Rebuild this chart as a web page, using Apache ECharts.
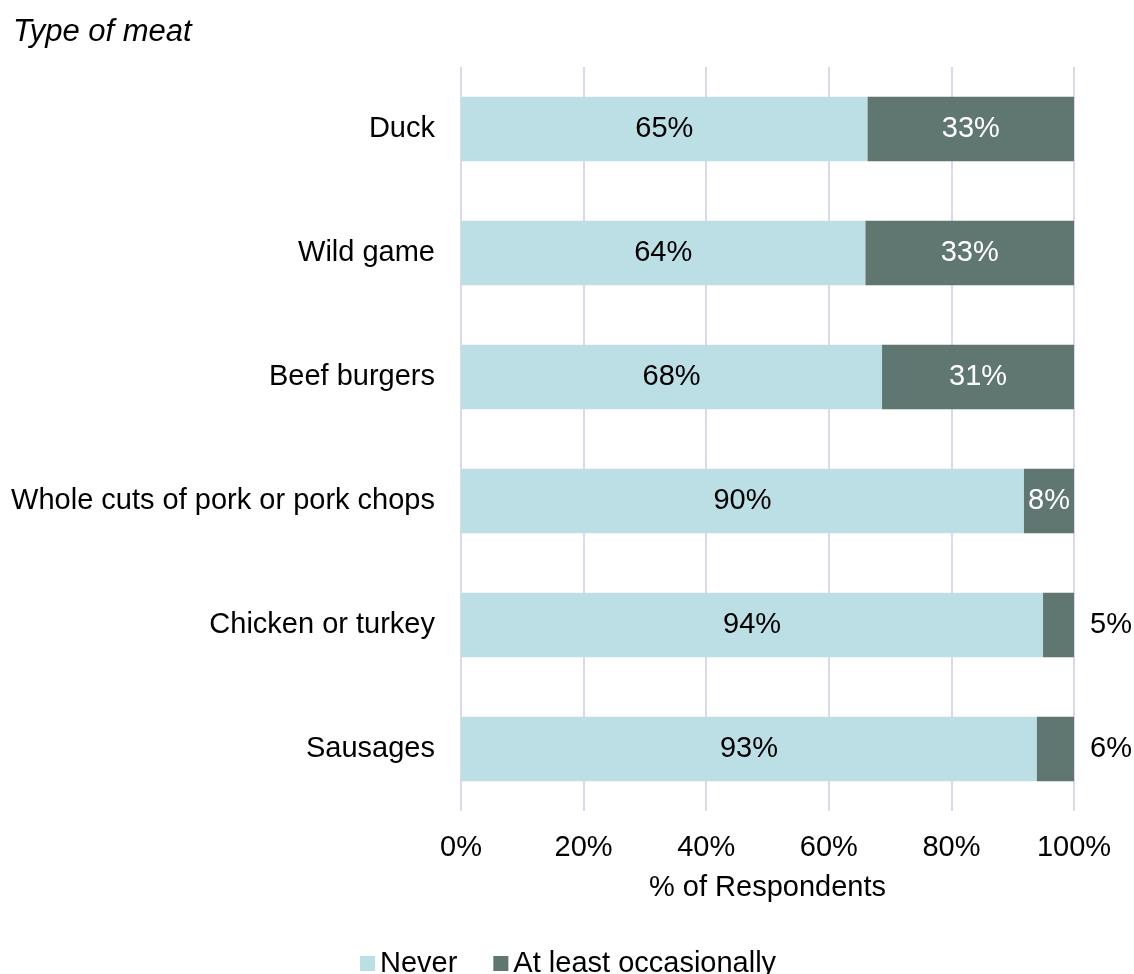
<!DOCTYPE html>
<html>
<head>
<meta charset="utf-8">
<script src="https://cdn.jsdelivr.net/npm/echarts@6/dist/echarts.min.js"></script>
<style>
  html, body { margin: 0; padding: 0; background: #fff; }
  #chart { width: 1134px; height: 974px; }
</style>
</head>
<body>
<div id="chart"></div>
<script>
// Meat types, listed top to bottom
const categories = ['Duck', 'Wild game', 'Beef burgers', 'Whole cuts of pork or pork chops', 'Chicken or turkey', 'Sausages'];
// Reported percentages per response
const never = [65, 64, 68, 90, 94, 93];
const occasionally = [33, 33, 31, 8, 5, 6];
const xTicks = [0, 20, 40, 60, 80, 100];

// Bars are stacked to 100% of each row's answered total
const totals = never.map((v, i) => v + occasionally[i]);
const neverShare = never.map((v, i) => v / totals[i] * 100);
const occShare = occasionally.map((v, i) => v / totals[i] * 100);

const FONT = '"Liberation Sans", Arial, sans-serif';
const FS = 29;
const chart = echarts.init(document.getElementById('chart'));

chart.setOption({
  animation: false,
  textStyle: { fontFamily: FONT },
  title: {
    text: 'Type of meat',
    left: 8, top: 12,
    textStyle: { fontFamily: FONT, fontSize: 31, fontStyle: 'italic', fontWeight: 'normal', color: '#000' }
  },
  legend: {
    left: 355, top: 944,
    itemWidth: 15, itemHeight: 15, itemGap: 36,
    icon: 'rect',
    textStyle: { fontFamily: FONT, fontSize: FS, color: '#000' },
    data: ['Never', 'At least occasionally']
  },
  grid: { left: 461, right: 60, top: 67, bottom: 163 },
  xAxis: {
    type: 'value', min: 0, max: 100, interval: 20,
    name: '% of Respondents', nameLocation: 'middle', nameGap: 62,
    nameTextStyle: { fontFamily: FONT, fontSize: FS, color: '#000' },
    axisLine: { show: false }, axisTick: { show: false },
    axisLabel: {
      fontFamily: FONT, fontSize: FS, color: '#000', margin: 22,
      customValues: xTicks,
      formatter: v => v + '%'
    },
    splitLine: { show: true, lineStyle: { color: '#ddd8e8', width: 2 } }
  },
  yAxis: {
    type: 'category', data: categories, inverse: true,
    axisLine: { show: false }, axisTick: { show: false },
    axisLabel: { fontFamily: FONT, fontSize: FS, color: '#000', margin: 26 }
  },
  series: [
    {
      name: 'Never', type: 'bar', stack: 'total', barWidth: '52%',
      itemStyle: { color: '#bcdee5' },
      label: {
        show: true, position: 'inside', fontFamily: FONT, fontSize: FS, color: '#000',
        formatter: p => never[p.dataIndex] + '%'
      },
      data: neverShare
    },
    {
      name: 'At least occasionally', type: 'bar', stack: 'total', barWidth: '52%',
      itemStyle: { color: '#5f7671' },
      label: {
        show: true, position: 'inside', fontFamily: FONT, fontSize: FS, color: '#fff',
        formatter: p => occasionally[p.dataIndex] + '%'
      },
      data: occShare.map((v, i) => occasionally[i] < 8
        ? { value: v, label: { position: 'right', distance: 16, color: '#000' } }
        : v)
    }
  ]
});
</script>
</body>
</html>
